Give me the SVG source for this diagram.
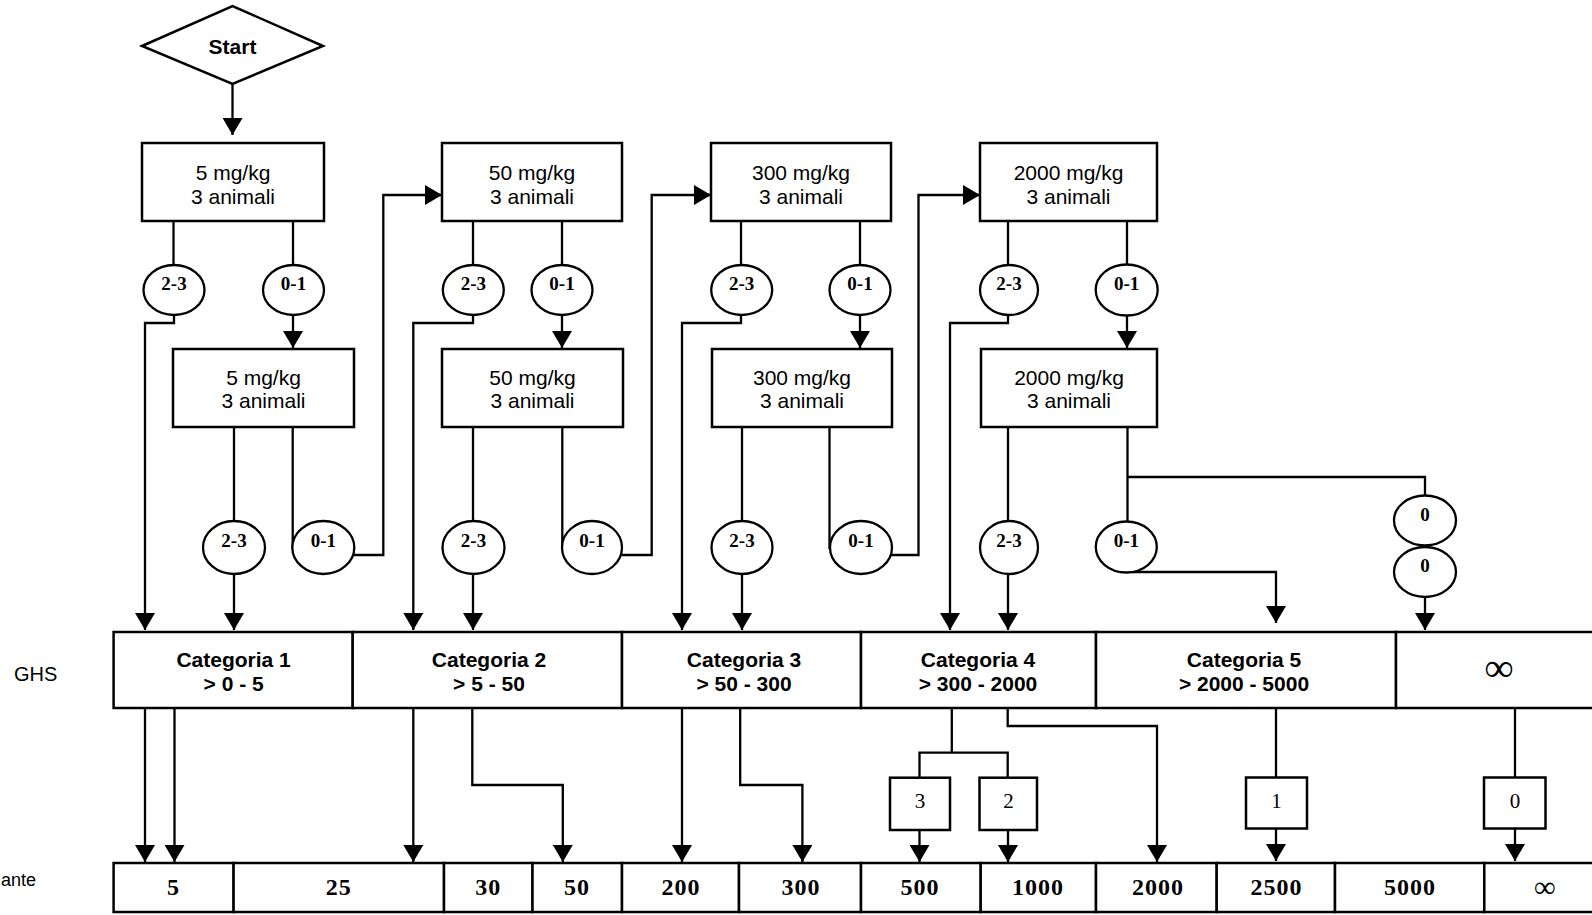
<svg xmlns="http://www.w3.org/2000/svg" width="1592" height="915" viewBox="0 0 1592 915">
<style>
.box{fill:#fff;stroke:#000;stroke-width:2.5}
.ell{fill:#fff;stroke:#000;stroke-width:2.3}
.ln{fill:none;stroke:#000;stroke-width:2.3}
.t{font-family:"Liberation Sans",Arial,sans-serif;font-size:21px;text-anchor:middle;fill:#000}
.tb{font-family:"Liberation Sans",Arial,sans-serif;font-size:21px;font-weight:bold;text-anchor:middle;fill:#000}
.c{font-family:"Liberation Serif","Times New Roman",serif;font-size:19px;font-weight:bold;text-anchor:middle;fill:#000}
.n{font-family:"Liberation Serif","Times New Roman",serif;font-size:24px;font-weight:bold;text-anchor:middle;letter-spacing:1px;fill:#000}
.s{font-family:"Liberation Serif","Times New Roman",serif;font-size:21px;text-anchor:middle;fill:#000}
.lab{font-family:"Liberation Sans",Arial,sans-serif;font-size:20px;fill:#000}
</style>
<defs>
<marker id="ah" viewBox="0 0 17 20" refX="17" refY="10" markerWidth="17" markerHeight="20" markerUnits="userSpaceOnUse" orient="auto">
<path d="M0,0 L17,10 L0,20 Z" fill="#000"/>
</marker>
</defs>
<rect x="0" y="0" width="1592" height="915" fill="#fff"/>

<g id="labels">
<text class="lab" x="14" y="681">GHS</text>
<text class="lab" x="1" y="886" style="font-size:18px">ante</text>
</g>

<g id="connectors">
<path class="ln" d="M232.5,84 V135" marker-end="url(#ah)"/>
<path class="ln" d="M173.5,221 V265"/>
<path class="ln" d="M293,221 V265"/>
<path class="ln" d="M174,315 V323 H145 V630" marker-end="url(#ah)"/>
<path class="ln" d="M293,315 V348" marker-end="url(#ah)"/>
<path class="ln" d="M234,427 V521"/>
<path class="ln" d="M292.7,427 V549"/>
<path class="ln" d="M234,574 V630" marker-end="url(#ah)"/>
<path class="ln" d="M353,555 H383.3 V195 H442" marker-end="url(#ah)"/>
<path class="ln" d="M473,221 V265"/>
<path class="ln" d="M562,221 V265"/>
<path class="ln" d="M473,315 V323 H413.3 V630" marker-end="url(#ah)"/>
<path class="ln" d="M562,315 V348" marker-end="url(#ah)"/>
<path class="ln" d="M473,427 V521"/>
<path class="ln" d="M562.3,427 V549"/>
<path class="ln" d="M473,574 V630" marker-end="url(#ah)"/>
<path class="ln" d="M621.5,555 H651.7 V195 H711" marker-end="url(#ah)"/>
<path class="ln" d="M741,221 V265"/>
<path class="ln" d="M860,221 V265"/>
<path class="ln" d="M741,315 V323 H682 V630" marker-end="url(#ah)"/>
<path class="ln" d="M860,315 V348" marker-end="url(#ah)"/>
<path class="ln" d="M742,427 V521"/>
<path class="ln" d="M829.5,427 V549"/>
<path class="ln" d="M742,574 V630" marker-end="url(#ah)"/>
<path class="ln" d="M890.5,555 H918.5 V195 H980" marker-end="url(#ah)"/>
<path class="ln" d="M1008,221 V265"/>
<path class="ln" d="M1127,221 V265"/>
<path class="ln" d="M1008,315 V323 H950 V630" marker-end="url(#ah)"/>
<path class="ln" d="M1127,315 V348" marker-end="url(#ah)"/>
<path class="ln" d="M1008,427 V521"/>
<path class="ln" d="M1127.5,427 V521"/>
<path class="ln" d="M1008,574 V630" marker-end="url(#ah)"/>
<path class="ln" d="M1127.5,477 H1425 V495.5"/>
<path class="ln" d="M1132,572 H1276 V623" marker-end="url(#ah)"/>
<path class="ln" d="M1425,597 V630" marker-end="url(#ah)"/>
<path class="ln" d="M145,708 V862" marker-end="url(#ah)"/>
<path class="ln" d="M174.5,708 V862" marker-end="url(#ah)"/>
<path class="ln" d="M413.3,708 V862" marker-end="url(#ah)"/>
<path class="ln" d="M472.3,708 V785 H562.8 V862" marker-end="url(#ah)"/>
<path class="ln" d="M682,708 V862" marker-end="url(#ah)"/>
<path class="ln" d="M740.2,708 V785 H802.4 V862" marker-end="url(#ah)"/>
<path class="ln" d="M951.8,708 V752.7"/>
<path class="ln" d="M919.5,777.7 V752.7 H1007.7 V777.7"/>
<path class="ln" d="M919.5,830 V862" marker-end="url(#ah)"/>
<path class="ln" d="M1008,830 V862" marker-end="url(#ah)"/>
<path class="ln" d="M1007.7,708 V726 H1157 V862" marker-end="url(#ah)"/>
<path class="ln" d="M1276,708 V777"/>
<path class="ln" d="M1276,828 V861" marker-end="url(#ah)"/>
<path class="ln" d="M1515,708 V777"/>
<path class="ln" d="M1515,828 V861" marker-end="url(#ah)"/>
</g>

<g id="start">
<polygon class="box" points="142,46 232.5,6 323,46 232.5,84"/>
<text class="tb" x="232.5" y="53.5">Start</text>
</g>

<g id="b1"><rect class="box" x="142" y="143" width="182" height="78"/><text class="t" x="233" y="180">5 mg/kg</text><text class="t" x="233" y="203.5">3 animali</text></g>
<g id="b2"><rect class="box" x="442" y="143" width="180" height="78"/><text class="t" x="532" y="180">50 mg/kg</text><text class="t" x="532" y="203.5">3 animali</text></g>
<g id="b3"><rect class="box" x="711" y="143" width="180" height="78"/><text class="t" x="801" y="180">300 mg/kg</text><text class="t" x="801" y="203.5">3 animali</text></g>
<g id="b4"><rect class="box" x="980" y="143" width="177" height="78"/><text class="t" x="1068.5" y="180">2000 mg/kg</text><text class="t" x="1068.5" y="203.5">3 animali</text></g>

<g id="b1b"><rect class="box" x="173" y="349" width="181" height="78"/><text class="t" x="263.5" y="384.5">5 mg/kg</text><text class="t" x="263.5" y="408">3 animali</text></g>
<g id="b2b"><rect class="box" x="442" y="349" width="181" height="78"/><text class="t" x="532.5" y="384.5">50 mg/kg</text><text class="t" x="532.5" y="408">3 animali</text></g>
<g id="b3b"><rect class="box" x="712" y="349" width="180" height="78"/><text class="t" x="802" y="384.5">300 mg/kg</text><text class="t" x="802" y="408">3 animali</text></g>
<g id="b4b"><rect class="box" x="981" y="349" width="176" height="78"/><text class="t" x="1069" y="384.5">2000 mg/kg</text><text class="t" x="1069" y="408">3 animali</text></g>

<g id="r1c1"><ellipse class="ell" cx="174" cy="290" rx="30.5" ry="25"/><text class="c" x="174" y="290">2-3</text></g>
<g id="r1c2"><ellipse class="ell" cx="293.5" cy="290" rx="30.5" ry="25"/><text class="c" x="293.5" y="290">0-1</text></g>
<g id="r1c3"><ellipse class="ell" cx="473.3" cy="290" rx="30.5" ry="25"/><text class="c" x="473.3" y="290">2-3</text></g>
<g id="r1c4"><ellipse class="ell" cx="562" cy="290" rx="30.5" ry="25"/><text class="c" x="562" y="290">0-1</text></g>
<g id="r1c5"><ellipse class="ell" cx="741.7" cy="290" rx="30.5" ry="25"/><text class="c" x="741.7" y="290">2-3</text></g>
<g id="r1c6"><ellipse class="ell" cx="860" cy="290" rx="30.5" ry="25"/><text class="c" x="860" y="290">0-1</text></g>
<g id="r1c7"><ellipse class="ell" cx="1009" cy="290" rx="29" ry="25"/><text class="c" x="1009" y="290">2-3</text></g>
<g id="r1c8"><ellipse class="ell" cx="1126.7" cy="290" rx="31" ry="25.5"/><text class="c" x="1126.7" y="290">0-1</text></g>

<g id="r2c1"><ellipse class="ell" cx="234" cy="547.5" rx="31" ry="26.5"/><text class="c" x="234" y="547">2-3</text></g>
<g id="r2c2"><ellipse class="ell" cx="323.3" cy="547.5" rx="31" ry="26.5"/><text class="c" x="323.3" y="547">0-1</text></g>
<g id="r2c3"><ellipse class="ell" cx="473.5" cy="547.5" rx="31" ry="26.5"/><text class="c" x="473.5" y="547">2-3</text></g>
<g id="r2c4"><ellipse class="ell" cx="592" cy="547.5" rx="30" ry="26.5"/><text class="c" x="592" y="547">0-1</text></g>
<g id="r2c5"><ellipse class="ell" cx="742" cy="547.5" rx="30.5" ry="26.5"/><text class="c" x="742" y="547">2-3</text></g>
<g id="r2c6"><ellipse class="ell" cx="861" cy="547.5" rx="31" ry="26.5"/><text class="c" x="861" y="547">0-1</text></g>
<g id="r2c7"><ellipse class="ell" cx="1009" cy="547.5" rx="29" ry="26.5"/><text class="c" x="1009" y="547">2-3</text></g>
<g id="r2c8"><ellipse class="ell" cx="1126.3" cy="547" rx="30.5" ry="25.5"/><text class="c" x="1126.3" y="547">0-1</text></g>

<g id="z1"><ellipse class="ell" cx="1425" cy="520.5" rx="31" ry="25"/><text class="c" x="1425" y="520.5">0</text></g>
<g id="z2"><ellipse class="ell" cx="1425" cy="572" rx="31" ry="25"/><text class="c" x="1425" y="572">0</text></g>

<g id="cat1"><rect class="box" x="113.6" y="632" width="239.1" height="76"/><text class="tb" x="233.6" y="667">Categoria 1</text><text class="tb" x="233.6" y="691">&gt; 0 - 5</text></g>
<g id="cat2"><rect class="box" x="352.7" y="632" width="269.3" height="76"/><text class="tb" x="489" y="667">Categoria 2</text><text class="tb" x="489" y="691">&gt; 5 - 50</text></g>
<g id="cat3"><rect class="box" x="622" y="632" width="239" height="76"/><text class="tb" x="744" y="667">Categoria 3</text><text class="tb" x="744" y="691">&gt; 50 - 300</text></g>
<g id="cat4"><rect class="box" x="861" y="632" width="235" height="76"/><text class="tb" x="978" y="667">Categoria 4</text><text class="tb" x="978" y="691">&gt; 300 - 2000</text></g>
<g id="cat5"><rect class="box" x="1096" y="632" width="300" height="76"/><text class="tb" x="1244" y="667">Categoria 5</text><text class="tb" x="1244" y="691">&gt; 2000 - 5000</text></g>
<g id="cat6"><rect class="box" x="1396" y="632" width="220" height="76"/><text class="n" x="1499" y="681" style="font-size:40px;letter-spacing:0">∞</text></g>

<g id="k3"><rect class="box" x="890" y="777.7" width="60" height="52.3"/><text class="s" x="920" y="808">3</text></g>
<g id="k2"><rect class="box" x="979.5" y="777.7" width="57.5" height="52.3"/><text class="s" x="1008.5" y="808">2</text></g>
<g id="k1"><rect class="box" x="1246" y="777.5" width="61" height="51"/><text class="s" x="1276.5" y="808">1</text></g>
<g id="k0"><rect class="box" x="1484" y="777.5" width="61.5" height="51"/><text class="s" x="1515" y="808">0</text></g>

<g id="v5"><rect class="box" x="113.6" y="863" width="120" height="49"/><text class="n" x="173.6" y="895">5</text></g>
<g id="v25"><rect class="box" x="233.6" y="863" width="210.4" height="49"/><text class="n" x="338.8" y="895">25</text></g>
<g id="v30"><rect class="box" x="444" y="863" width="88.5" height="49"/><text class="n" x="488.3" y="895">30</text></g>
<g id="v50"><rect class="box" x="532.5" y="863" width="89.5" height="49"/><text class="n" x="577" y="895">50</text></g>
<g id="v200"><rect class="box" x="622" y="863" width="117" height="49"/><text class="n" x="681" y="895">200</text></g>
<g id="v300"><rect class="box" x="739" y="863" width="122" height="49"/><text class="n" x="801" y="895">300</text></g>
<g id="v500"><rect class="box" x="861" y="863" width="119.7" height="49"/><text class="n" x="920" y="895">500</text></g>
<g id="v1000"><rect class="box" x="980.7" y="863" width="115.3" height="49"/><text class="n" x="1038" y="895">1000</text></g>
<g id="v2000"><rect class="box" x="1096" y="863" width="120.7" height="49"/><text class="n" x="1158" y="895">2000</text></g>
<g id="v2500"><rect class="box" x="1216.7" y="863" width="118.3" height="49"/><text class="n" x="1276.5" y="895">2500</text></g>
<g id="v5000"><rect class="box" x="1335" y="863" width="149.3" height="49"/><text class="n" x="1410" y="895">5000</text></g>
<g id="vinf"><rect class="box" x="1484.3" y="863" width="130" height="49"/><text class="n" x="1545" y="897" style="font-size:30px;letter-spacing:0">∞</text></g>
</svg>
